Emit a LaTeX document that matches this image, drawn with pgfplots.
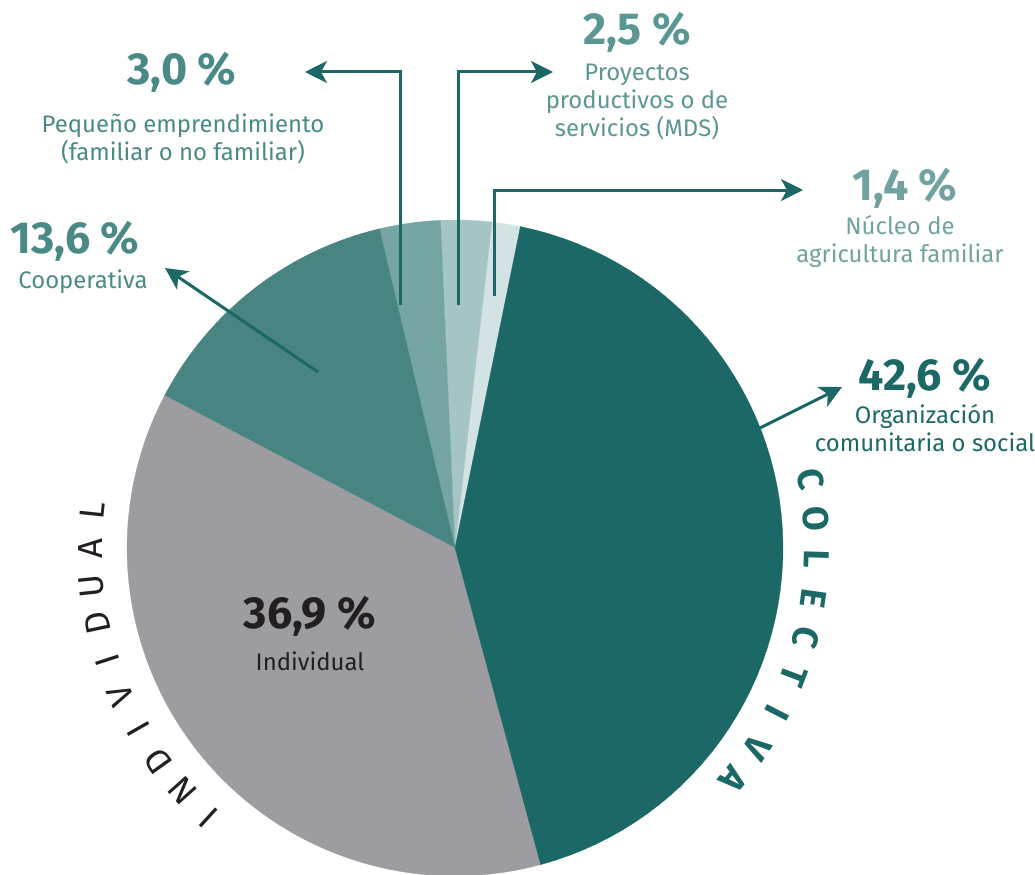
\documentclass[border=0pt]{standalone}
\usepackage{pgfplots}
\pgfplotsset{compat=1.18}
\usepackage{fontspec}
\setmainfont{Fira Sans}
\usetikzlibrary{arrows.meta}
\definecolor{cOrg}{HTML}{1B6866}
\definecolor{cInd}{HTML}{9D9CA1}
\definecolor{cCoop}{HTML}{478482}
\definecolor{cPeq}{HTML}{74A5A3}
\definecolor{cProy}{HTML}{A5C5C4}
\definecolor{cNuc}{HTML}{D3E3E3}
\definecolor{tA}{HTML}{4A8A86}
\definecolor{tB}{HTML}{5B9692}
\definecolor{tC}{HTML}{6FA2A0}
\definecolor{tDark}{HTML}{231F20}
% shares (percent)
\def\vNuc{1.4}
\def\vProy{2.5}
\def\vPeq{3.0}
\def\vCoop{13.6}
\def\vInd{36.9}
\def\vOrg{42.6}
\pgfmathsetmacro\aA{78.5}
\pgfmathsetmacro\aB{\aA+3.6*\vNuc}
\pgfmathsetmacro\aC{\aB+3.6*\vProy}
\pgfmathsetmacro\aD{\aC+3.6*\vPeq}
\pgfmathsetmacro\aE{\aD+3.6*\vCoop}
\pgfmathsetmacro\aF{\aE+3.6*\vInd}
\pgfmathsetmacro\aG{\aF+3.6*\vOrg}
\def\colL#1{\ifcase#1 C\or O\or L\or E\or C\or T\or I\or V\or A\fi}
\def\indL#1{\ifcase#1 I\or N\or D\or I\or V\or I\or D\or U\or A\or L\fi}
\newcommand\pieslice[3]{%
\addplot[fill=#1, draw=#1, line width=0.3pt, domain=#2:#3, samples=60, variable=\t]
  ({455+328*cos(\t)},{548-328*sin(\t)}) -- (axis cs:455,548) -- cycle;}
\tikzset{big/.style={font=\fontsize{45}{50}\selectfont\bfseries, anchor=base},
         lab/.style={font=\fontsize{24}{28}\selectfont, anchor=base, align=center},
         arr/.style={cOrg, line width=3bp, -{Stealth[length=22bp,width=22bp,inset=6bp]}}}
\begin{document}
\begin{tikzpicture}
\begin{axis}[
  width=1035bp, height=874bp, scale only axis,
  xmin=0, xmax=1035, ymin=0, ymax=874, y dir=reverse,
  hide axis, clip=true,
]
\coordinate (bl) at (axis cs:0,874);
\coordinate (tr) at (axis cs:1035,0);
\pieslice{cNuc}{\aA}{\aB}
\pieslice{cProy}{\aB}{\aC}
\pieslice{cPeq}{\aC}{\aD}
\pieslice{cCoop}{\aD}{\aE}
\pieslice{cInd}{\aE}{\aF}
\pieslice{cOrg}{\aF}{\aG}
% arrows
\draw[arr] (axis cs:400,305) -- (axis cs:400,72) -- (axis cs:305,72);
\draw[arr] (axis cs:458,305) -- (axis cs:458,72) -- (axis cs:553,72);
\draw[arr] (axis cs:494,296) -- (axis cs:494,190) -- (axis cs:803,190);
\draw[arr] (axis cs:318,372) -- (axis cs:165,268);
\draw[arr] (axis cs:760,428) -- (axis cs:842,387);
% labels (multi-line nodes: anchor at the baseline of the last line)
\node[tA, big] at (axis cs:182,85) {3,0 \%};
\node[tA, lab] at (axis cs:183,160) {Pequeño emprendimiento\\(familiar o no familiar)};
\node[tA, big] at (axis cs:75,253) {13,6 \%};
\node[tA, lab] at (axis cs:83,288) {Cooperativa};
\node[tB, big] at (axis cs:637,45) {2,5 \%};
\node[tB, lab] at (axis cs:637,136) {Proyectos\\productivos o de\\servicios (MDS)};
\node[tC, big] at (axis cs:905,200) {1,4 \%};
\node[tC, lab] at (axis cs:900,262) {Núcleo de\\agricultura familiar};
\node[cOrg, big] at (axis cs:925,390) {42,6 \%};
\node[cOrg, lab] at (axis cs:925,451) {Organización\\comunitaria o social};
\node[tDark, big] at (axis cs:310,628) {36,9 \%};
\node[tDark, lab] at (axis cs:310,670) {Individual};
% curved words
\pgfplotsinvokeforeach{0,...,8}{
  \node[cOrg, font=\fontsize{36}{36}\selectfont\bfseries, anchor=center, inner sep=0pt, rotate={11-6.35*#1-90}]
    at (axis cs:{455+362*cos(11-6.35*#1)},{548-362*sin(11-6.35*#1)}) {\colL{#1}};
}
\pgfplotsinvokeforeach{0,...,9}{
  \node[tDark, font=\fontsize{35}{35}\selectfont, anchor=center, inner sep=0pt, rotate={227.6-5.95*#1-90}]
    at (axis cs:{455+365*cos(227.6-5.95*#1)},{548-365*sin(227.6-5.95*#1)}) {\indL{#1}};
}
\end{axis}
\pgfresetboundingbox
\path[use as bounding box] (bl) rectangle (tr);
\end{tikzpicture}
\end{document}
